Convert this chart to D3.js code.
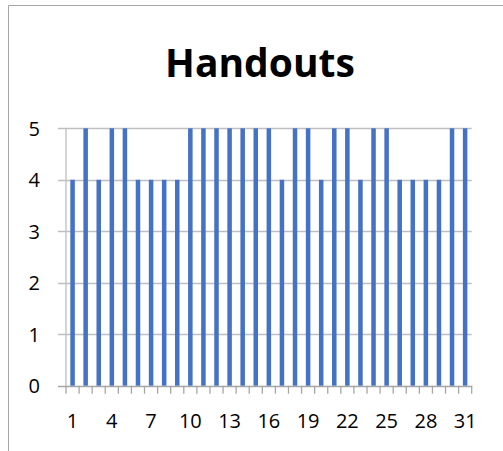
<!DOCTYPE html>
<html>
<head>
<meta charset="utf-8">
<script src="https://cdn.jsdelivr.net/npm/d3@7"></script>
<style>
  body { margin: 0; background: #fff; }
  svg { display: block; }
</style>
</head>
<body>
<div id="chart"></div>
<script>
// Data
var days = d3.range(1, 32);
var handouts = [4, 5, 4, 5, 5, 4, 4, 4, 4, 5, 5, 5, 5, 5, 5, 5,
                4, 5, 5, 4, 5, 5, 4, 5, 5, 4, 4, 4, 4, 5, 5];
var yTicks = [0, 1, 2, 3, 4, 5];
var xLabels = [1, 4, 7, 10, 13, 16, 19, 22, 25, 28, 31];

var w = 503, h = 451;
var plotLeft = 66, plotRight = 471.7, plotTop = 128.3, plotBottom = 385.7;
var font = "'Open Sans', sans-serif";

var svg = d3.select("#chart")
    .append("svg")
    .attr("width", w)
    .attr("height", h);

// chart area border (only left and top visible)
svg.append("path")
    .attr("d", "M8.5," + h + "V5.5H" + w)
    .attr("fill", "none")
    .attr("stroke", "#a6a6a6")
    .attr("stroke-width", 1);

var x = d3.scaleBand()
    .domain(days)
    .range([plotLeft, plotRight])
    .paddingInner(0.655)
    .paddingOuter(0.33);

var xb = d3.scaleBand().domain(days).range([plotLeft, plotRight]);

var y = d3.scaleLinear()
    .domain([0, 5])
    .range([plotBottom, plotTop]);

// gridlines, including the short outside tick on the left
svg.append("g")
    .selectAll("line")
    .data(yTicks)
    .enter()
    .append("line")
    .attr("x1", plotLeft - 8)
    .attr("x2", plotRight)
    .attr("y1", function(d) { return Math.round(y(d)) + 0.5; })
    .attr("y2", function(d) { return Math.round(y(d)) + 0.5; })
    .attr("stroke", function(d) { return d === 0 ? "#a6a6a6" : "#bfbfbf"; })
    .attr("stroke-width", 1.3);

// vertical axis line
svg.append("line")
    .attr("x1", plotLeft).attr("x2", plotLeft)
    .attr("y1", plotTop).attr("y2", plotBottom)
    .attr("stroke", "#bfbfbf")
    .attr("stroke-width", 1.3);

// bars
svg.append("g")
    .selectAll("rect")
    .data(handouts)
    .enter()
    .append("rect")
    .attr("x", function(d, i) { return x(days[i]); })
    .attr("y", function(d) { return y(d); })
    .attr("width", x.bandwidth())
    .attr("height", function(d) { return plotBottom - y(d); })
    .attr("fill", "#4472c4");

// category tick marks below the axis
var bounds = days.map(function(d) { return xb(d); }).concat([plotRight]);
svg.append("g")
    .selectAll("line")
    .data(bounds)
    .enter()
    .append("line")
    .attr("x1", function(d) { return d; })
    .attr("x2", function(d) { return d; })
    .attr("y1", plotBottom)
    .attr("y2", plotBottom + 8)
    .attr("stroke", "#a6a6a6")
    .attr("stroke-width", 1.3);

// y labels
svg.append("g")
    .selectAll("text")
    .data(yTicks)
    .enter()
    .append("text")
    .text(function(d) { return d; })
    .attr("x", 40)
    .attr("y", function(d) { return y(d) + 7.5; })
    .attr("text-anchor", "end")
    .attr("font-family", font)
    .attr("font-size", "20px")
    .attr("fill", "#000");

// x labels
svg.append("g")
    .selectAll("text")
    .data(xLabels)
    .enter()
    .append("text")
    .text(function(d) { return d; })
    .attr("x", function(d) { return xb(d) + xb.bandwidth() / 2; })
    .attr("y", 428)
    .attr("text-anchor", "middle")
    .attr("font-family", font)
    .attr("font-size", "20px")
    .attr("fill", "#000");

// title
svg.append("text")
    .text("Handouts")
    .attr("x", 260)
    .attr("y", 77)
    .attr("text-anchor", "middle")
    .attr("font-family", font)
    .attr("font-weight", "bold")
    .attr("font-size", "39px")
    .attr("fill", "#000");
</script>
</body>
</html>
